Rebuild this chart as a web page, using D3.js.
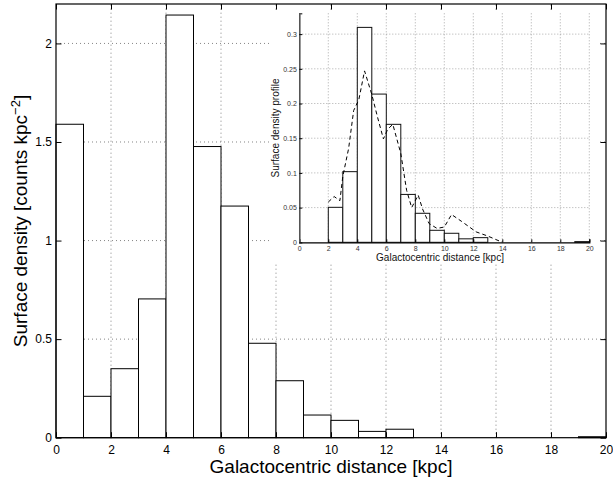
<!DOCTYPE html>
<html><head><meta charset="utf-8">
<script src="https://cdn.jsdelivr.net/npm/d3@7"></script>
<style>
html,body{margin:0;padding:0;background:#fff;}
svg{display:block;font-family:"Liberation Sans",Arial,Helvetica,sans-serif;}
</style></head>
<body>
<svg id="c" width="613" height="477"></svg>
<script>
// ---- data ----
const binStarts = [0,1,2,3,4,5,6,7,8,9,10,11,12,13,14,15,16,17,18,19];
const mainValues = [1.59,0.21,0.35,0.704,2.144,1.477,1.175,0.479,0.289,0.115,0.088,0.032,0.043,0,0,0,0,0,0,0.005];
const insetValues = [0,0,0.0504,0.1018,0.3097,0.2136,0.170,0.069,0.0418,0.0173,0.013,0.005,0.0067,0,0,0,0,0,0,0.001];
const curveX = [2,2.4,2.8,3.0,3.4,3.75,4.1,4.5,5.0,5.4,5.8,6.1,6.45,7.0,7.4,7.75,8.2,8.5,8.95,9.5,10.0,10.5,11.2,12.2,13.0,14.0];
const curveY = [0.058,0.066,0.06,0.095,0.135,0.19,0.205,0.247,0.213,0.18,0.149,0.163,0.17,0.128,0.075,0.05,0.068,0.048,0.027,0.02,0.022,0.04,0.03,0.015,0.009,0];
const mainXTicks = [0,2,4,6,8,10,12,14,16,18,20];
const mainYTicks = [0,0.5,1,1.5,2];
const insetXTicks = [0,2,4,6,8,10,12,14,16,18,20];
const insetYTicks = [0,0.05,0.1,0.15,0.2,0.25,0.3];

const svg = d3.select("#c");

// ---- main axes ----
const L=56, R=606, T=4, B=437.7;
const x = d3.scaleLinear().domain([0,20]).range([L,R]);
const y = d3.scaleLinear().domain([0,2.2]).range([B,T]);
const g = svg.append("g");
const dot = {"stroke":"#666","stroke-width":0.8,"stroke-dasharray":"1,3"};
function applyAttrs(sel,o){for(const k in o) sel.attr(k,o[k]); return sel;}

// grid
applyAttrs(g.selectAll(".gx").data(mainXTicks.filter(d=>d>0&&d<20)).join("line")
  .attr("x1",d=>x(d)).attr("x2",d=>x(d)).attr("y1",B).attr("y2",T), dot);
applyAttrs(g.selectAll(".gy").data(mainYTicks.filter(d=>d>0)).join("line")
  .attr("y1",d=>y(d)).attr("y2",d=>y(d)).attr("x1",L).attr("x2",R), dot);

// bars
g.selectAll("rect.bar").data(binStarts).join("rect").attr("class","bar")
  .attr("x",d=>x(d)).attr("width",d=>x(d+1)-x(d))
  .attr("y",(d,i)=>y(mainValues[i])).attr("height",(d,i)=>y(0)-y(mainValues[i]))
  .attr("fill","#fff").attr("stroke","#000").attr("stroke-width",1);

// axes (inward ticks)
const tl=5.5;
g.append("g").attr("transform",`translate(0,${B})`)
  .call(d3.axisBottom(x).tickValues(mainXTicks).tickSize(-tl).tickPadding(8).tickFormat(d3.format("d")))
  .call(s=>{s.select(".domain").remove();s.selectAll("text").attr("font-size",12).attr("fill","#000").attr("font-family","Liberation Sans, Arial");});
g.append("g").attr("transform",`translate(0,${T})`)
  .call(d3.axisTop(x).tickValues(mainXTicks).tickSize(-tl).tickFormat(""))
  .call(s=>s.select(".domain").remove());
g.append("g").attr("transform",`translate(${L},0)`)
  .call(d3.axisLeft(y).tickValues(mainYTicks).tickSize(-tl).tickPadding(4).tickFormat(d=>String(d)))
  .call(s=>{s.select(".domain").remove();s.selectAll("text").attr("font-size",12).attr("fill","#000").attr("font-family","Liberation Sans, Arial");});
g.append("g").attr("transform",`translate(${R},0)`)
  .call(d3.axisRight(y).tickValues(mainYTicks).tickSize(-tl).tickFormat(""))
  .call(s=>s.select(".domain").remove());
g.append("rect").attr("x",L).attr("y",T).attr("width",R-L).attr("height",B-T)
  .attr("fill","none").attr("stroke","#000").attr("stroke-width",1.2);

// titles
g.append("text").attr("x",(L+R)/2).attr("y",473).attr("text-anchor","middle")
  .attr("font-size",19).text("Galactocentric distance [kpc]");
const yt = g.append("text").attr("transform","translate(27,221) rotate(-90)")
  .attr("text-anchor","middle").attr("font-size",19);
yt.append("tspan").text("Surface density [counts kpc");
yt.append("tspan").attr("dy",-7).attr("font-size",13).text("\u22122");
yt.append("tspan").attr("dy",7).text("]");

// ---- inset ----
svg.append("rect").attr("x",269).attr("y",10).attr("width",330).attr("height",253).attr("fill","#fff");
const iL=299.3, iR=589.3, iT=13.3, iB=242.3;
const xi = d3.scaleLinear().domain([0,20]).range([iL,iR]);
const yi = d3.scaleLinear().domain([0,0.33]).range([iB,iT]);
const gi = svg.append("g");
const idot = {"stroke":"#888","stroke-width":0.7,"stroke-dasharray":"1,2"};
applyAttrs(gi.selectAll(".ix").data(insetXTicks.filter(d=>d>0)).join("line")
  .attr("x1",d=>xi(d)).attr("x2",d=>xi(d)).attr("y1",iB).attr("y2",iT), idot);
applyAttrs(gi.selectAll(".iy").data(insetYTicks.filter(d=>d>0)).join("line")
  .attr("y1",d=>yi(d)).attr("y2",d=>yi(d)).attr("x1",iL).attr("x2",iR), idot);

gi.selectAll("rect.ibar").data(binStarts).join("rect").attr("class","ibar")
  .attr("x",d=>xi(d)).attr("width",d=>xi(d+1)-xi(d))
  .attr("y",(d,i)=>yi(insetValues[i])).attr("height",(d,i)=>yi(0)-yi(insetValues[i]))
  .attr("fill","#fff").attr("stroke","#111").attr("stroke-width",1);

const line = d3.line().x(d=>xi(d[0])).y(d=>yi(d[1]));
gi.append("path").datum(curveX.map((v,i)=>[v,curveY[i]])).attr("d",line)
  .attr("fill","none").attr("stroke","#000").attr("stroke-width",1).attr("stroke-dasharray","4,3");

gi.append("g").attr("transform",`translate(0,${iB})`)
  .call(d3.axisBottom(xi).tickValues(insetXTicks).tickSize(-3).tickPadding(4).tickFormat(d3.format("d")))
  .call(s=>{s.select(".domain").attr("stroke","#000").attr("stroke-width",1.2);s.selectAll("text").attr("font-size",7).attr("fill","#333").attr("font-family","Liberation Sans, Arial");});
gi.append("g").attr("transform",`translate(${iL},0)`)
  .call(d3.axisLeft(yi).tickValues(insetYTicks).tickSize(-3).tickPadding(2.5).tickFormat(d=>String(d)))
  .call(s=>{s.select(".domain").attr("stroke","#555").attr("stroke-width",1.6);s.selectAll("text").attr("font-size",7).attr("fill","#333").attr("font-family","Liberation Sans, Arial");});

gi.append("text").attr("x",440).attr("y",261).attr("text-anchor","middle")
  .attr("font-size",10).attr("fill","#111").text("Galactocentric distance [kpc]");
gi.append("text").attr("transform","translate(279,128) rotate(-90)").attr("text-anchor","middle")
  .attr("font-size",10).attr("fill","#111").text("Surface density profile");
</script>
</body></html>
